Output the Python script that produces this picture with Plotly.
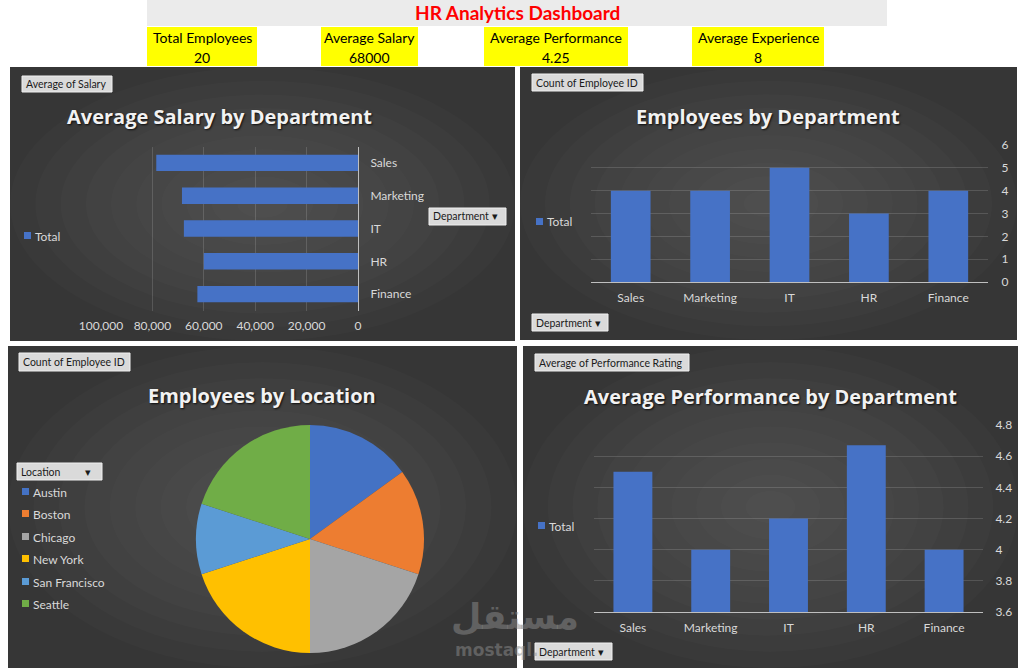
import plotly.graph_objects as go

W, H = 1030, 671

# ---------------- data ----------------
departments = ["Sales", "Marketing", "IT", "HR", "Finance"]
avg_salary = [78500, 68500, 67750, 60000, 62500]
emp_count = [4, 4, 5, 3, 4]
avg_perf = [4.5, 4.0, 4.2, 4.67, 4.0]

locations = ["Austin", "Boston", "Chicago", "New York", "San Francisco", "Seattle"]
loc_count = [3, 3, 4, 4, 2, 4]
loc_colors = ["#4472C4", "#ED7D31", "#A5A5A5", "#FFC000", "#5B9BD5", "#70AD47"]

kpi_labels = ["Total Employees", "Average Salary", "Average Performance", "Average Experience"]
kpi_values = ["20", "68000", "4.25", "8"]

salary_ticks = [0, 20000, 40000, 60000, 80000, 100000]
salary_ticktext = ["0", "20,000", "40,000", "60,000", "80,000", "100,000"]

# ---------------- helpers ----------------
def fx(x):
    return x / W

def fy(y):
    return 1 - y / H

BAR = "#4672C6"
TXT = "#d9d9d9"
GRID = "rgba(255,255,255,0.14)"
FONT = "Lato"
TFONT = "Open Sans"

shapes = []
annotations = []

def rect(x0, y0, x1, y1, fill, line=None, layer="below"):
    shapes.append(dict(type="rect", xref="paper", yref="paper",
                       x0=fx(x0), x1=fx(x1), y0=fy(y1), y1=fy(y0),
                       fillcolor=fill, line=dict(width=1 if line else 0, color=line or fill),
                       layer=layer))

def text(x, y, s, size=12, color=TXT, anchor="left", bold=False, shadow=None, family=FONT):
    f = dict(size=size, color=color, family=family)
    if bold:
        f["weight"] = "bold"
    if shadow:
        f["shadow"] = shadow
    annotations.append(dict(x=fx(x), y=fy(y), xref="paper", yref="paper", text=s,
                            showarrow=False, xanchor=anchor, yanchor="middle", font=f))

def panel(x0, y0, x1, y1):
    rect(x0, y0, x1, y1, "#363636")
    cx, cy = (x0 + x1) / 2, (y0 + y1) / 2
    hw, hh = (x1 - x0) / 2, (y1 - y0) / 2
    n = 10
    for k in range(n):
        s = 1 - k / n
        shapes.append(dict(type="circle", xref="paper", yref="paper",
                           x0=fx(cx - hw * s), x1=fx(cx + hw * s),
                           y0=fy(cy + hh * s), y1=fy(cy - hh * s),
                           fillcolor="rgba(255,255,255,0.017)", line=dict(width=0),
                           layer="below"))

def button(x0, y0, x1, y1, s):
    rect(x0, y0, x1, y1, "#dadada", line="#f0f0f0", layer="above")
    text(x0 + 2, (y0 + y1) / 2, s, size=10.5, color="#1a1a1a")

def legend_total(x, y):
    rect(x, y - 4, x + 7, y + 3, BAR, layer="above")
    text(x + 9, y, "Total", size=12)

TITLE_SHADOW = "1px 1px 2px rgba(0,0,0,0.8)"

# ---------------- header ----------------
rect(147, 0, 887, 26, "#ebebeb")
text(517, 13, "HR Analytics Dashboard", size=19, color="#ff0000", anchor="center", bold=True)
kpi_boxes = [(147, 257), (321, 418), (484, 628), (692, 824)]
for (a, b), lab, val in zip(kpi_boxes, kpi_labels, kpi_values):
    rect(a, 27, b, 66, "#ffff00")
    text((a + b) / 2, 37, lab, size=14, color="#000000", anchor="center")
    text((a + b) / 2, 57, val, size=14, color="#000000", anchor="center")

# ---------------- panels ----------------
panel(10, 67, 515, 341)
panel(520, 67, 1017, 340)
panel(8, 346, 517, 668)
panel(523, 346, 1018, 668)

fig = go.Figure()

# ---- Panel 1: Average Salary by Department (horizontal bars) ----
fig.add_trace(go.Bar(x=avg_salary, y=departments, orientation="h", width=0.5,
                     marker=dict(color=BAR, line=dict(width=0)),
                     xaxis="x", yaxis="y", showlegend=False))

# ---- Panel 2: Employees by Department ----
fig.add_trace(go.Bar(x=departments, y=emp_count, width=0.5,
                     marker=dict(color=BAR, line=dict(width=0)),
                     xaxis="x2", yaxis="y2", showlegend=False))

# ---- Panel 4: Average Performance by Department ----
fig.add_trace(go.Bar(x=departments, y=avg_perf, width=0.5,
                     marker=dict(color=BAR, line=dict(width=0)),
                     xaxis="x3", yaxis="y3", showlegend=False))

# ---- Panel 3: Employees by Location (pie) ----
fig.add_trace(go.Pie(labels=locations, values=loc_count, sort=False, direction="clockwise",
                     rotation=0, marker=dict(colors=loc_colors, line=dict(width=0)),
                     textinfo="none", hoverinfo="label+value", showlegend=False,
                     domain=dict(x=[fx(196), fx(424)], y=[fy(653), fy(425)])))

axis_font = dict(family=FONT, size=12, color=TXT)

fig.update_layout(
    template="none",
    width=W, height=H, margin=dict(l=0, r=0, t=0, b=0, pad=0, autoexpand=False),
    paper_bgcolor="#ffffff", plot_bgcolor="rgba(0,0,0,0)",
    font=dict(family=FONT, color=TXT),
    bargap=0.5,
    xaxis=dict(domain=[fx(101), fx(358)], range=[100000, 0], anchor="y", automargin=False,
               tickvals=salary_ticks, ticktext=salary_ticktext, tickfont=axis_font,
               showgrid=True, gridcolor=GRID, gridwidth=1, zeroline=False,
               showline=False, ticks="outside", ticklen=4, tickcolor="rgba(0,0,0,0)",
               fixedrange=True),
    yaxis=dict(domain=[fy(310.5), fy(146.5)], anchor="x", side="right", automargin=False,
               categoryorder="array", categoryarray=departments[::-1],
               tickfont=axis_font, showgrid=False, zeroline=False,
               showline=True, linecolor="#bfbfbf", linewidth=1,
               ticks="outside", ticklen=9, tickcolor="rgba(0,0,0,0)", fixedrange=True),
    xaxis2=dict(domain=[fx(591), fx(988)], anchor="y2", tickfont=axis_font, automargin=False,
                categoryorder="array", categoryarray=departments,
                showgrid=False, showline=True, linecolor="#bfbfbf", linewidth=1,
                ticks="outside", ticklen=5, tickcolor="rgba(0,0,0,0)", fixedrange=True),
    yaxis2=dict(domain=[fy(282), fy(145)], anchor="x2", side="right", range=[0, 6], automargin=False,
                dtick=1, tickfont=axis_font, showgrid=True, gridcolor=GRID,
                zeroline=False, showline=False,
                ticks="outside", ticklen=10, tickcolor="rgba(0,0,0,0)", fixedrange=True),
    xaxis3=dict(domain=[fx(594), fx(983)], anchor="y3", tickfont=axis_font, automargin=False,
                categoryorder="array", categoryarray=departments,
                showgrid=False, showline=True, linecolor="#bfbfbf", linewidth=1,
                ticks="outside", ticklen=5, tickcolor="rgba(0,0,0,0)", fixedrange=True),
    yaxis3=dict(domain=[fy(612), fy(425)], anchor="x3", side="right", range=[3.6, 4.8], automargin=False,
                dtick=0.2, tickfont=axis_font, showgrid=True, gridcolor=GRID,
                zeroline=False, showline=False, tickformat="~g",
                ticks="outside", ticklen=9, tickcolor="rgba(0,0,0,0)", fixedrange=True),
)

# ---- titles ----
text(219.5, 117, "Average Salary by Department", size=20, color="#f2f2f2", anchor="center", bold=True, shadow=TITLE_SHADOW, family=TFONT)
text(767.5, 116, "Employees by Department", size=20, color="#f2f2f2", anchor="center", bold=True, shadow=TITLE_SHADOW, family=TFONT)
text(261.5, 395, "Employees by Location", size=20, color="#f2f2f2", anchor="center", bold=True, shadow=TITLE_SHADOW, family=TFONT)
text(770.5, 396, "Average Performance by Department", size=20, color="#f2f2f2", anchor="center", bold=True, shadow=TITLE_SHADOW, family=TFONT)

# ---- legends ----
legend_total(24, 236)
legend_total(536, 222)
legend_total(538, 526)

loc_y = [492, 514, 537, 559, 582, 604]
for name, col, yy in zip(locations, loc_colors, loc_y):
    rect(22, yy - 4, 29, yy + 3, col, layer="above")
    text(31, yy, name, size=12)

# ---- watermark ----
text(515, 617, "مستقل", size=35, color="rgba(140,140,140,0.5)", anchor="center", bold=True, family="DejaVu Sans")
text(453, 650, "mostaql.", size=17, color="rgba(140,140,140,0.5)", anchor="left", bold=True, family="DejaVu Sans")

# ---- field buttons ----
button(22, 76, 112, 92, "Average of Salary")
button(429, 208, 506, 225, "Department ▾")
button(532, 74, 643, 91, "Count of Employee ID")
button(532, 314, 608, 331, "Department ▾")
button(19, 353, 130, 371, "Count of Employee ID")
button(17, 463, 102, 480, "Location&nbsp;&nbsp;&nbsp;&nbsp;&nbsp;&nbsp;&nbsp;&nbsp;&nbsp;▾")
button(535, 354, 689, 371, "Average of Performance Rating")
button(535, 643, 612, 660, "Department ▾")

fig.update_layout(shapes=shapes, annotations=annotations)
fig.write_html("out.html")
